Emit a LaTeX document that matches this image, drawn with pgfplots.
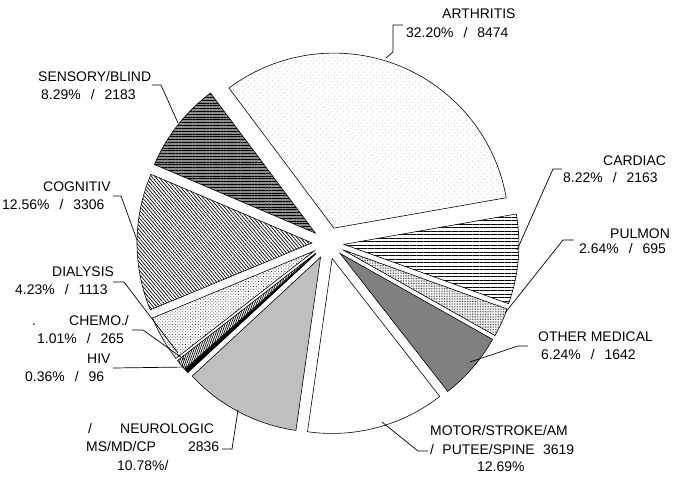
\documentclass[border=0pt]{standalone}
\usepackage{pgfplots}
\pgfplotsset{compat=1.18}
\usepackage{pgfplotstable}
\usepackage{fontspec}
\setmainfont{Liberation Sans}
\usetikzlibrary{patterns,patterns.meta}

% share of each slice (per cent) and count, counter-clockwise from ARTHRITIS
\pgfplotstableread{
pct   count
32.20 8474
8.29  2183
12.56 3306
4.23  1113
1.01  265
0.36  96
10.78 2836
12.69 3619
6.24  1642
2.64  695
8.22  2163
}\piedata

\tikzset{
  s0/.style={fill=white, postaction={pattern={Dots[distance=4pt,radius=0.35pt,angle=45]}, pattern color=gray}},
  s1/.style={fill=black!45, postaction={pattern={Lines[angle=0,distance=2.4pt,line width=0.8pt]}, pattern color=black}},
  s2/.style={fill=white, postaction={pattern={Lines[angle=-50,distance=2.2pt,line width=0.6pt]}, pattern color=black}},
  s3/.style={fill=white, postaction={pattern={Dots[distance=2pt,radius=0.4pt,angle=45]}, pattern color=black}},
  s4/.style={fill=white, postaction={pattern={Lines[angle=70,distance=1.6pt,line width=0.6pt]}, pattern color=black}},
  s5/.style={fill=black},
  s6/.style={fill=black!25},
  s7/.style={fill=white},
  s8/.style={fill=black!50},
  s9/.style={fill=white, postaction={pattern={Dots[distance=1.4pt,radius=0.35pt]}, pattern color=black}},
  s10/.style={fill=white, postaction={pattern={Lines[angle=0,distance=3pt,line width=0.6pt]}, pattern color=black}},
  lab/.style={anchor=mid west, inner sep=0pt, font=\fontsize{11.9}{14}\selectfont},
  lead/.style={line width=0.6pt},
}
\newcommand{\sep}{\hspace{0.72em}/\hspace{0.72em}}

\def\cx{328}\def\cy{234}\def\R{175}\def\dd{16}\def\startang{10}

\begin{document}
\begin{tikzpicture}
\useasboundingbox (0,0) rectangle (20.22cm,14.31cm);
\begin{axis}[hide axis, x=0.03cm, y=0.03cm,
  xmin=0, xmax=674, ymin=0, ymax=477, clip=false]
\pgfplotsextra{%
  \gdef\tot{0}%
  \foreach \i in {0,...,10}{%
    \pgfplotstablegetelem{\i}{pct}\of\piedata
    \pgfmathsetmacro\tmp{\tot+\pgfplotsretval}\xdef\tot{\tmp}}%
  \gdef\acc{0}%
  \pgfmathsetlengthmacro\Rc{\R*0.03cm}%
  \foreach \i in {0,...,10}{%
    \pgfplotstablegetelem{\i}{pct}\of\piedata
    \pgfmathsetmacro\sw{360*\pgfplotsretval/\tot}%
    \pgfmathsetmacro\aA{\startang+\acc}%
    \pgfmathsetmacro\aB{\aA+\sw}%
    \pgfmathsetmacro\aM{(\aA+\aB)/2}%
    \pgfmathsetmacro\ox{\cx+\dd*cos(\aM)}%
    \pgfmathsetmacro\oy{\cy+\dd*sin(\aM)}%
    \pgfmathsetmacro\px{\ox+\R*cos(\aA)}%
    \pgfmathsetmacro\py{\oy+\R*sin(\aA)}%
    \filldraw[s\i, draw=black, line width=0.5pt] (axis cs:\ox,\oy) -- (axis cs:\px,\py)
      arc[start angle=\aA, end angle=\aB, radius=\Rc] -- cycle;
    \pgfmathsetmacro\tmp{\acc+\sw}\xdef\acc{\tmp}}%
}
% labels and leader lines
\node[lab] at (axis cs:442,462) {ARTHRITIS};
\node[lab] at (axis cs:406,443) {32.20\%\sep8474};
\draw[lead] (axis cs:403,452) -- (axis cs:393,452) -- (axis cs:393,425) -- (axis cs:386,419);

\node[lab] at (axis cs:603,315) {CARDIAC};
\node[lab] at (axis cs:563,298) {8.22\%\sep2163};
\draw[lead] (axis cs:562,308) -- (axis cs:553,308) -- (axis cs:517,227);

\node[lab] at (axis cs:610,242) {PULMON};
\node[lab] at (axis cs:579,227) {2.64\%\sep695};
\draw[lead] (axis cs:574,237) -- (axis cs:563,237) -- (axis cs:505,164);

\node[lab] at (axis cs:538,139) {OTHER MEDICAL};
\node[lab] at (axis cs:541,121) {6.24\%\sep1642};
\draw[lead] (axis cs:528,131) -- (axis cs:518,131) -- (axis cs:470,115);

\node[lab] at (axis cs:430,45) {MOTOR/STROKE/AM};
\node[lab] at (axis cs:430,26) {/\hspace{0.6em}PUTEE/SPINE\hspace{0.6em}3619};
\node[lab] at (axis cs:477,9) {12.69\%};
\draw[lead] (axis cs:428,26) -- (axis cs:418,26) -- (axis cs:382,55);

\node[lab] at (axis cs:88,47) {/};
\node[lab] at (axis cs:120,47) {NEUROLOGIC};
\node[lab] at (axis cs:86,29) {MS/MD/CP};
\node[lab] at (axis cs:188,29) {2836};
\node[lab] at (axis cs:117,10) {10.78\%/};
\draw[lead] (axis cs:222,28) -- (axis cs:232,28) -- (axis cs:238,67);

\node[lab] at (axis cs:87,117) {HIV};
\node[lab] at (axis cs:25,99) {0.36\%\sep96};
\draw[lead] (axis cs:113,109) -- (axis cs:188,110);

\node[lab] at (axis cs:32,155) {.};
\node[lab] at (axis cs:69,155) {CHEMO./};
\node[lab] at (axis cs:37,137) {1.01\%\sep265};
\draw[lead] (axis cs:132,147) -- (axis cs:143,147) -- (axis cs:185,117);

\node[lab] at (axis cs:52,204) {DIALYSIS};
\node[lab] at (axis cs:15,186) {4.23\%\sep1113};
\draw[lead] (axis cs:113,195) -- (axis cs:124,195) -- (axis cs:178,124);

\node[lab] at (axis cs:43,289) {COGNITIV};
\node[lab] at (axis cs:2,271) {12.56\%\sep3306};
\draw[lead] (axis cs:113,281) -- (axis cs:121,281) -- (axis cs:137,237);

\node[lab] at (axis cs:38,399) {SENSORY/BLIND};
\node[lab] at (axis cs:41,381) {8.29\%\sep2183};
\draw[lead] (axis cs:152,392) -- (axis cs:161,392) -- (axis cs:178,354);
\end{axis}
\end{tikzpicture}
\end{document}
